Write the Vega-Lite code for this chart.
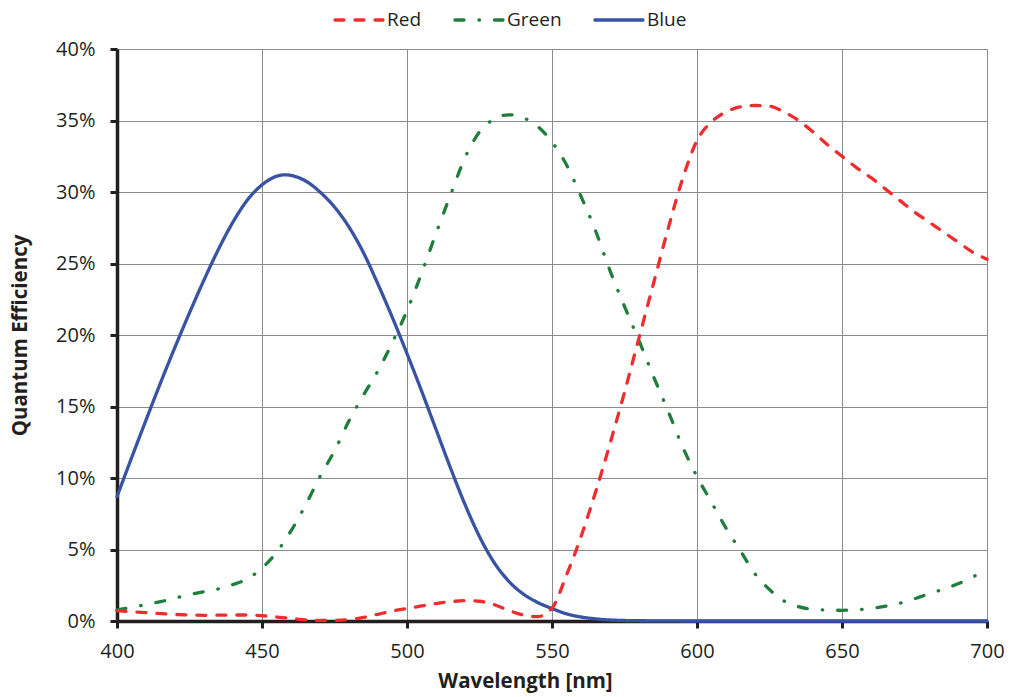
{
  "$schema": "https://vega.github.io/schema/vega-lite/v6.json",
  "width": 870,
  "height": 572,
  "autosize": {"type": "none"},
  "padding": {"left": 117, "top": 49, "right": 23, "bottom": 76},
  "background": "white",
  "config": {
    "view": {"stroke": null},
    "font": "Open Sans",
    "axis": {
      "domainColor": "#231f20",
      "domainWidth": 3.5,
      "tickColor": "#231f20",
      "tickWidth": 3,
      "tickSize": 7,
      "gridColor": "#8c8c8c",
      "gridWidth": 1,
      "labelFont": "Open Sans",
      "labelFontSize": 20,
      "labelColor": "#231f20",
      "titleFont": "Open Sans",
      "titleFontSize": 20.5,
      "titleFontWeight": "bold",
      "titleColor": "#231f20"
    }
  },
  "data": {
    "values": [
      {"wl": 400, "ch": "Blue", "qe": 8.7},
      {"wl": 405, "ch": "Blue", "qe": 11.4},
      {"wl": 410, "ch": "Blue", "qe": 14.05},
      {"wl": 415, "ch": "Blue", "qe": 16.65},
      {"wl": 420, "ch": "Blue", "qe": 19.15},
      {"wl": 425, "ch": "Blue", "qe": 21.55},
      {"wl": 430, "ch": "Blue", "qe": 23.85},
      {"wl": 435, "ch": "Blue", "qe": 26.0},
      {"wl": 440, "ch": "Blue", "qe": 27.9},
      {"wl": 445, "ch": "Blue", "qe": 29.45},
      {"wl": 450, "ch": "Blue", "qe": 30.5},
      {"wl": 455, "ch": "Blue", "qe": 31.1},
      {"wl": 458, "ch": "Blue", "qe": 31.2},
      {"wl": 462, "ch": "Blue", "qe": 31.05},
      {"wl": 466, "ch": "Blue", "qe": 30.65},
      {"wl": 470, "ch": "Blue", "qe": 30.0},
      {"wl": 475, "ch": "Blue", "qe": 28.95},
      {"wl": 480, "ch": "Blue", "qe": 27.55},
      {"wl": 485, "ch": "Blue", "qe": 25.75},
      {"wl": 490, "ch": "Blue", "qe": 23.55},
      {"wl": 495, "ch": "Blue", "qe": 21.2},
      {"wl": 500, "ch": "Blue", "qe": 18.7},
      {"wl": 505, "ch": "Blue", "qe": 16.1},
      {"wl": 510, "ch": "Blue", "qe": 13.4},
      {"wl": 515, "ch": "Blue", "qe": 10.7},
      {"wl": 520, "ch": "Blue", "qe": 8.15},
      {"wl": 525, "ch": "Blue", "qe": 5.9},
      {"wl": 530, "ch": "Blue", "qe": 4.1},
      {"wl": 535, "ch": "Blue", "qe": 2.8},
      {"wl": 540, "ch": "Blue", "qe": 1.9},
      {"wl": 545, "ch": "Blue", "qe": 1.3},
      {"wl": 550, "ch": "Blue", "qe": 0.87},
      {"wl": 555, "ch": "Blue", "qe": 0.5},
      {"wl": 560, "ch": "Blue", "qe": 0.28},
      {"wl": 565, "ch": "Blue", "qe": 0.15},
      {"wl": 570, "ch": "Blue", "qe": 0.07},
      {"wl": 580, "ch": "Blue", "qe": 0.02},
      {"wl": 600, "ch": "Blue", "qe": 0},
      {"wl": 650, "ch": "Blue", "qe": 0},
      {"wl": 700, "ch": "Blue", "qe": 0},

      {"wl": 400, "ch": "Green", "qe": 0.77},
      {"wl": 405, "ch": "Green", "qe": 0.95},
      {"wl": 410, "ch": "Green", "qe": 1.15},
      {"wl": 415, "ch": "Green", "qe": 1.35},
      {"wl": 420, "ch": "Green", "qe": 1.6},
      {"wl": 425, "ch": "Green", "qe": 1.85},
      {"wl": 430, "ch": "Green", "qe": 2.05},
      {"wl": 435, "ch": "Green", "qe": 2.25},
      {"wl": 440, "ch": "Green", "qe": 2.55},
      {"wl": 445, "ch": "Green", "qe": 2.95},
      {"wl": 450, "ch": "Green", "qe": 3.7},
      {"wl": 455, "ch": "Green", "qe": 4.8},
      {"wl": 460, "ch": "Green", "qe": 6.3},
      {"wl": 465, "ch": "Green", "qe": 8.1},
      {"wl": 470, "ch": "Green", "qe": 10.1},
      {"wl": 475, "ch": "Green", "qe": 11.9},
      {"wl": 480, "ch": "Green", "qe": 14.0},
      {"wl": 485, "ch": "Green", "qe": 15.8},
      {"wl": 490, "ch": "Green", "qe": 17.5},
      {"wl": 495, "ch": "Green", "qe": 19.5},
      {"wl": 500, "ch": "Green", "qe": 21.7},
      {"wl": 505, "ch": "Green", "qe": 24.3},
      {"wl": 510, "ch": "Green", "qe": 27.1},
      {"wl": 515, "ch": "Green", "qe": 29.8},
      {"wl": 520, "ch": "Green", "qe": 32.4},
      {"wl": 525, "ch": "Green", "qe": 34.2},
      {"wl": 530, "ch": "Green", "qe": 35.1},
      {"wl": 535, "ch": "Green", "qe": 35.4},
      {"wl": 540, "ch": "Green", "qe": 35.2},
      {"wl": 545, "ch": "Green", "qe": 34.6},
      {"wl": 550, "ch": "Green", "qe": 33.5},
      {"wl": 555, "ch": "Green", "qe": 31.9},
      {"wl": 560, "ch": "Green", "qe": 29.7},
      {"wl": 565, "ch": "Green", "qe": 27.3},
      {"wl": 570, "ch": "Green", "qe": 24.5},
      {"wl": 575, "ch": "Green", "qe": 22.0},
      {"wl": 580, "ch": "Green", "qe": 19.6},
      {"wl": 585, "ch": "Green", "qe": 17.1},
      {"wl": 590, "ch": "Green", "qe": 14.7},
      {"wl": 595, "ch": "Green", "qe": 12.2},
      {"wl": 600, "ch": "Green", "qe": 10.1},
      {"wl": 605, "ch": "Green", "qe": 8.3},
      {"wl": 610, "ch": "Green", "qe": 6.5},
      {"wl": 615, "ch": "Green", "qe": 4.9},
      {"wl": 620, "ch": "Green", "qe": 3.3},
      {"wl": 625, "ch": "Green", "qe": 2.2},
      {"wl": 630, "ch": "Green", "qe": 1.4},
      {"wl": 635, "ch": "Green", "qe": 1.0},
      {"wl": 640, "ch": "Green", "qe": 0.82},
      {"wl": 650, "ch": "Green", "qe": 0.75},
      {"wl": 660, "ch": "Green", "qe": 0.88},
      {"wl": 670, "ch": "Green", "qe": 1.25},
      {"wl": 680, "ch": "Green", "qe": 1.9},
      {"wl": 690, "ch": "Green", "qe": 2.6},
      {"wl": 700, "ch": "Green", "qe": 3.6},

      {"wl": 400, "ch": "Red", "qe": 0.72},
      {"wl": 410, "ch": "Red", "qe": 0.58},
      {"wl": 420, "ch": "Red", "qe": 0.46},
      {"wl": 430, "ch": "Red", "qe": 0.4},
      {"wl": 440, "ch": "Red", "qe": 0.42},
      {"wl": 445, "ch": "Red", "qe": 0.42},
      {"wl": 450, "ch": "Red", "qe": 0.37},
      {"wl": 455, "ch": "Red", "qe": 0.28},
      {"wl": 460, "ch": "Red", "qe": 0.18},
      {"wl": 465, "ch": "Red", "qe": 0.08},
      {"wl": 470, "ch": "Red", "qe": 0.04},
      {"wl": 475, "ch": "Red", "qe": 0.04},
      {"wl": 480, "ch": "Red", "qe": 0.1},
      {"wl": 485, "ch": "Red", "qe": 0.25},
      {"wl": 490, "ch": "Red", "qe": 0.47},
      {"wl": 495, "ch": "Red", "qe": 0.7},
      {"wl": 500, "ch": "Red", "qe": 0.87},
      {"wl": 505, "ch": "Red", "qe": 1.05},
      {"wl": 510, "ch": "Red", "qe": 1.22},
      {"wl": 515, "ch": "Red", "qe": 1.35},
      {"wl": 520, "ch": "Red", "qe": 1.42},
      {"wl": 525, "ch": "Red", "qe": 1.38},
      {"wl": 530, "ch": "Red", "qe": 1.15},
      {"wl": 535, "ch": "Red", "qe": 0.75},
      {"wl": 540, "ch": "Red", "qe": 0.42},
      {"wl": 545, "ch": "Red", "qe": 0.3},
      {"wl": 550, "ch": "Red", "qe": 0.9},
      {"wl": 555, "ch": "Red", "qe": 3.2},
      {"wl": 560, "ch": "Red", "qe": 5.9},
      {"wl": 565, "ch": "Red", "qe": 9.0},
      {"wl": 570, "ch": "Red", "qe": 12.4},
      {"wl": 575, "ch": "Red", "qe": 16.0},
      {"wl": 580, "ch": "Red", "qe": 19.8},
      {"wl": 585, "ch": "Red", "qe": 23.6},
      {"wl": 590, "ch": "Red", "qe": 27.4},
      {"wl": 595, "ch": "Red", "qe": 30.9},
      {"wl": 600, "ch": "Red", "qe": 33.6},
      {"wl": 605, "ch": "Red", "qe": 34.9},
      {"wl": 610, "ch": "Red", "qe": 35.6},
      {"wl": 615, "ch": "Red", "qe": 35.95},
      {"wl": 620, "ch": "Red", "qe": 36.05},
      {"wl": 625, "ch": "Red", "qe": 36.0},
      {"wl": 630, "ch": "Red", "qe": 35.6},
      {"wl": 635, "ch": "Red", "qe": 35.0},
      {"wl": 640, "ch": "Red", "qe": 34.2},
      {"wl": 645, "ch": "Red", "qe": 33.3},
      {"wl": 650, "ch": "Red", "qe": 32.5},
      {"wl": 655, "ch": "Red", "qe": 31.7},
      {"wl": 660, "ch": "Red", "qe": 31.0},
      {"wl": 665, "ch": "Red", "qe": 30.2},
      {"wl": 670, "ch": "Red", "qe": 29.4},
      {"wl": 675, "ch": "Red", "qe": 28.6},
      {"wl": 680, "ch": "Red", "qe": 27.9},
      {"wl": 685, "ch": "Red", "qe": 27.2},
      {"wl": 690, "ch": "Red", "qe": 26.5},
      {"wl": 695, "ch": "Red", "qe": 25.8},
      {"wl": 700, "ch": "Red", "qe": 25.3}
    ]
  },
  "mark": {"type": "line", "interpolate": "monotone", "strokeWidth": 3.3, "strokeCap": "round", "strokeJoin": "round"},
  "encoding": {
    "x": {
      "field": "wl",
      "type": "quantitative",
      "scale": {"domain": [400, 700], "nice": false, "zero": false},
      "axis": {
        "values": [400, 450, 500, 550, 600, 650, 700],
        "title": "Wavelength [nm]",
        "labelFlush": false,
        "labelPadding": 13,
        "titlePadding": 10,
        "titleX": 408
      }
    },
    "y": {
      "field": "qe",
      "type": "quantitative",
      "scale": {"domain": [0, 40], "nice": false},
      "axis": {
        "values": [0, 5, 10, 15, 20, 25, 30, 35, 40],
        "labelExpr": "datum.value + '%'",
        "title": "Quantum Efficiency",
        "labelPadding": 15,
        "titlePadding": 25
      }
    },
    "color": {
      "field": "ch",
      "type": "nominal",
      "scale": {"domain": ["Red", "Green", "Blue"], "range": ["#ee2d2f", "#1e7e3c", "#3953a4"]},
      "legend": {
        "title": null,
        "orient": "none",
        "legendX": 216,
        "legendY": -55,
        "direction": "horizontal",
        "symbolType": "stroke",
        "symbolSize": 2304,
        "symbolStrokeWidth": 3.3,
        "labelFontSize": 19,
        "labelColor": "#231f20",
        "labelOffset": 2,
        "columnPadding": 26,
        "encode": {"symbols": {"update": {"strokeCap": {"value": "round"}}}}
      }
    },
    "strokeDash": {
      "field": "ch",
      "type": "nominal",
      "scale": {"domain": ["Red", "Green", "Blue"], "range": [[9, 11], [9, 15, 0.5, 15], [1, 0]]},
      "legend": {
        "title": null,
        "orient": "none",
        "legendX": 216,
        "legendY": -55,
        "direction": "horizontal",
        "symbolType": "stroke",
        "symbolSize": 2304,
        "symbolStrokeWidth": 3.3,
        "labelFontSize": 19,
        "labelColor": "#231f20",
        "labelOffset": 2,
        "columnPadding": 26,
        "encode": {"symbols": {"update": {"strokeCap": {"value": "round"}}}}
      }
    }
  }
}
